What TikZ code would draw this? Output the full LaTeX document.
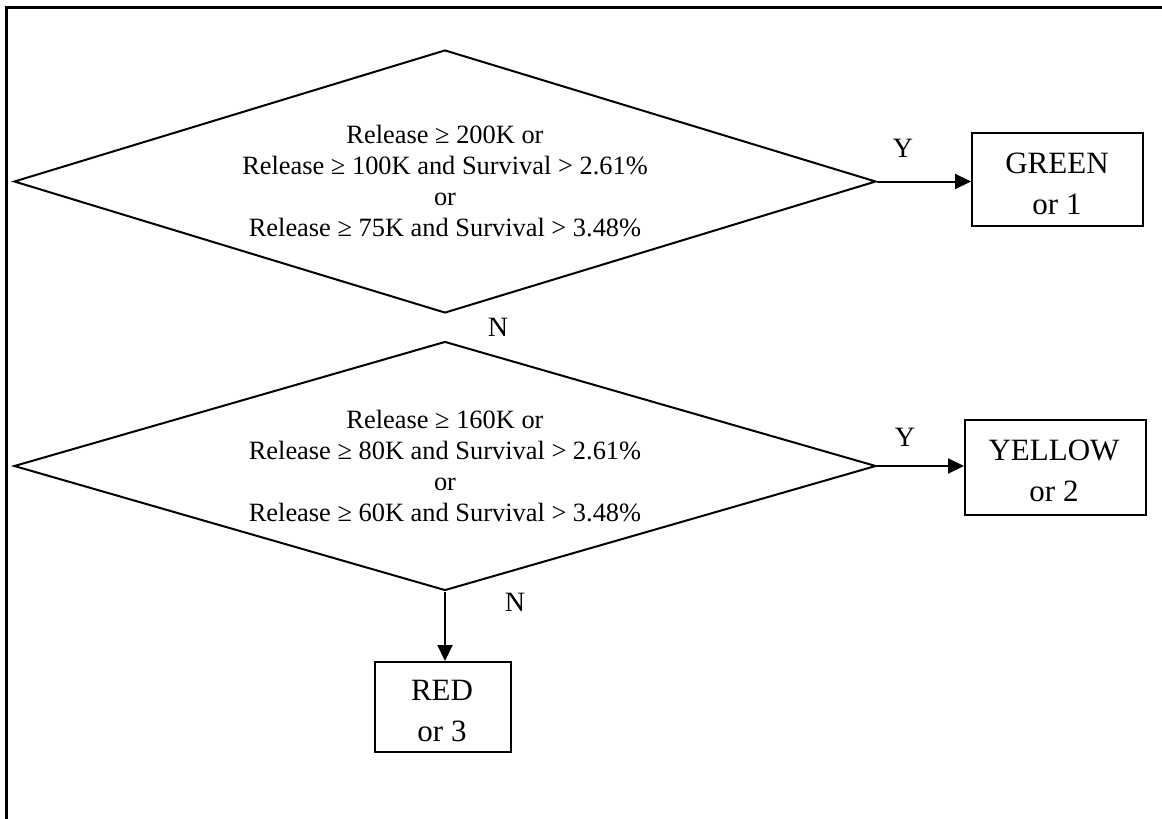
\documentclass[tikz,border=0pt]{standalone}
\usepackage{fontspec}
\setmainfont{Liberation Serif}
\usetikzlibrary{shapes.geometric,arrows.meta}
\begin{document}
\begin{tikzpicture}[x=0.5pt,y=-0.5pt,
  decision/.style={draw, line width=1pt, shape=diamond, inner sep=0pt,
    align=center, font=\fontsize{13.2}{15.5}\selectfont},
  outcome/.style={draw, line width=1pt, inner sep=0pt},
  outcometext/.style={inner sep=0pt, align=center,
    font=\fontsize{15.5}{20.5}\selectfont},
  flow/.style={line width=1pt, -{Triangle[length=8pt,width=7.5pt]}},
  answer/.style={font=\fontsize{14}{16}\selectfont, inner sep=0pt}]
\useasboundingbox (0,0) rectangle (1162,819);

% page frame (top and left edges)
\draw[line width=1.5pt] (6,819) -- (6,7.5) -- (1162,7.5);

% decisions
\node[decision, minimum width=431pt, minimum height=131.5pt, aspect=3.28] (d1) at (445,181.5)
  {Release ≥ 200K or\\Release ≥ 100K and Survival > 2.61\%\\or\\Release ≥ 75K and Survival > 3.48\%};
\node[decision, minimum width=431pt, minimum height=124.5pt, aspect=3.46] (d2) at (445,466)
  {Release ≥ 160K or\\Release ≥ 80K and Survival > 2.61\%\\or\\Release ≥ 60K and Survival > 3.48\%};

% outcomes: frames, then their top-aligned captions
\node[outcome, minimum width=85.5pt, minimum height=46.5pt] (green) at (1057.5,179.5) {};
\node[outcome, minimum width=90.5pt, minimum height=47.5pt] (yellow) at (1055.5,467.5) {};
\node[outcome, minimum width=68pt, minimum height=45pt] (red) at (443,707) {};
\node[outcometext] (greentext) at (1057,184) {GREEN\\or 1};
\node[outcometext] (yellowtext) at (1054,471) {YELLOW\\or 2};
\node[outcometext] (redtext) at (442,711) {RED\\or 3};

% connectors
\draw[flow] (d1.east) -- (d1.east -| green.west);
\draw[flow] (d2.east) -- (d2.east -| yellow.west);
\draw[flow] (d2.south) -- (d2.south |- red.north);

% branch labels
\node[answer] (y1) at (903,148) {Y};
\node[answer] (n1) at (498,327) {N};
\node[answer] (y2) at (905,437) {Y};
\node[answer] (n2) at (515,602) {N};
\end{tikzpicture}
\end{document}
